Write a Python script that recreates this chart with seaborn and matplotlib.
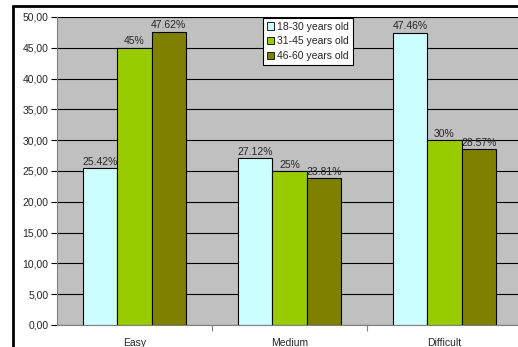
import pandas as pd
import seaborn as sns
import matplotlib.pyplot as plt
from matplotlib.lines import Line2D
from matplotlib.ticker import FixedLocator, FuncFormatter

categories = ['Easy', 'Medium', 'Difficult']
groups = ['18-30 years old', '31-45 years old', '46-60 years old']
young = [25.42, 27.12, 47.46]
middle = [45, 25, 30]
older = [47.62, 23.81, 28.57]
labels = {
    '18-30 years old': ['25.42%', '27.12%', '47.46%'],
    '31-45 years old': ['45%', '25%', '30%'],
    '46-60 years old': ['47.62%', '23.81%', '28.57%'],
}
colors = ['#CCFFFF', '#99CC00', '#808000']

Data = pd.DataFrame({
    'difficulty': categories * 3,
    'age': [g for g in groups for _ in categories],
    'value': young + middle + older,
})

sns.set_style('white')
plt.rcParams['font.family'] = ['Liberation Sans', 'DejaVu Sans']

fig = plt.figure(figsize=(5.18, 3.47), dpi=100)
ax = fig.add_axes([57 / 518, 1 - 325 / 347, 465 / 518, 308 / 347])
ax.set_facecolor('#C0C0C0')

sns.barplot(data=Data, x='difficulty', y='value', hue='age', order=categories,
            hue_order=groups, palette=colors, saturation=1, width=0.665,
            edgecolor='black', linewidth=0.8, ax=ax, zorder=3)

for cont, g in zip(ax.containers, groups):
    ax.bar_label(cont, labels=labels[g], fontsize=7.5, padding=1)

ax.set_ylim(0, 50)
ax.set_xlim(-0.5, 2.5)
ax.set_yticks(range(0, 51, 5))
ax.yaxis.set_major_formatter(FuncFormatter(lambda v, p: f'{v:.2f}'.replace('.', ',')))
ax.yaxis.grid(True, color='black', linewidth=0.8, zorder=0)
ax.set_axisbelow(True)
ax.tick_params(axis='y', length=4, width=0.8, color='black', labelsize=7.5, pad=2, left=True)
ax.tick_params(axis='x', length=0, labelsize=7.5, pad=9)
ax.xaxis.set_minor_locator(FixedLocator([0.5, 1.5]))
ax.tick_params(axis='x', which='minor', length=4, width=0.8, color='gray', bottom=True)
ax.set_xlabel('')
ax.set_ylabel('')
for s in ['top', 'right']:
    ax.spines[s].set_visible(False)
ax.spines['left'].set_color('gray')
ax.spines['bottom'].set_color('gray')

leg = ax.legend(loc='upper left', bbox_to_anchor=(0.443, 0.997), fontsize=7.5,
                frameon=True, fancybox=False, edgecolor='black', framealpha=1,
                handlelength=0.7, handleheight=0.7, handletextpad=0.3,
                borderpad=0.35, labelspacing=0.45, borderaxespad=0)
leg.get_frame().set_linewidth(0.8)
for h in leg.legend_handles:
    h.set_edgecolor('black')
    h.set_linewidth(0.6)

# outer chart frame (only left and top edges are visible in the crop)
x0 = 13 / 518
y0 = 1 - 6 / 347
fig.add_artist(Line2D([x0, x0], [0, y0], transform=fig.transFigure, color='black', linewidth=2))
fig.add_artist(Line2D([x0, 1], [y0, y0], transform=fig.transFigure, color='black', linewidth=2))

plt.savefig('out.png', dpi=100)
